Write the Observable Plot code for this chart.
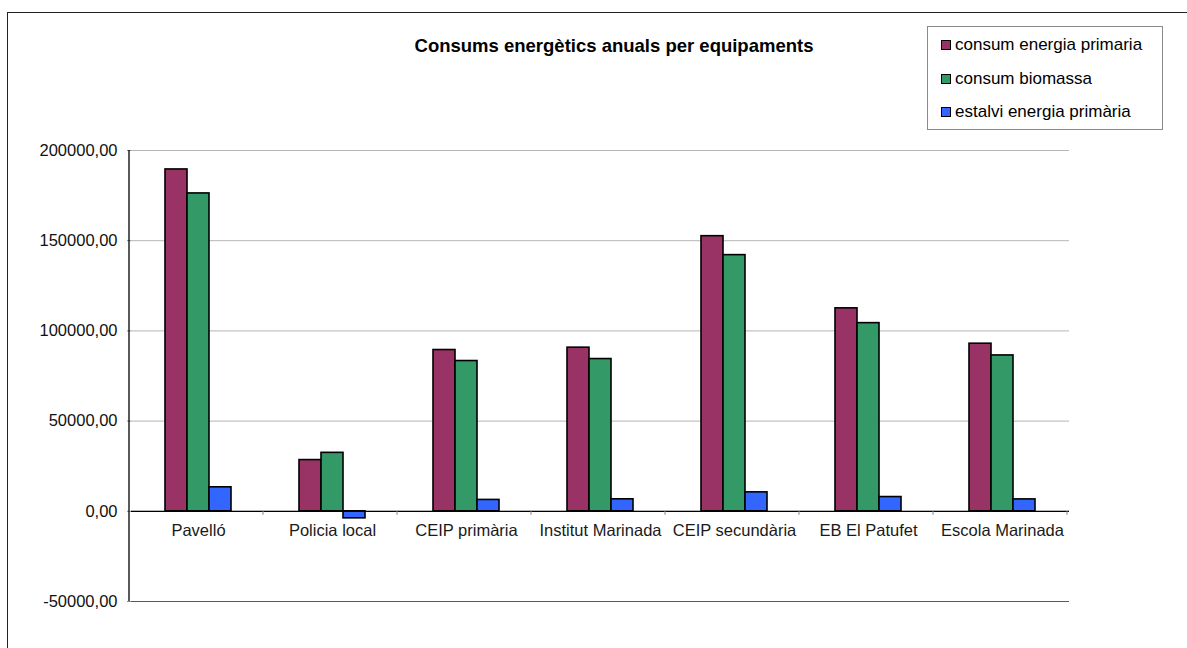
<!DOCTYPE html>
<html lang="ca">
<head>
<meta charset="utf-8">
<script src="https://cdn.jsdelivr.net/npm/d3@7"></script>
<script src="https://cdn.jsdelivr.net/npm/@observablehq/plot@0.6"></script>
<style>
  html, body { margin: 0; padding: 0; background: #fff; }
  #chart { position: relative; width: 1187px; height: 648px; overflow: hidden; font-family: "Liberation Sans", Arial, sans-serif; }
  #chart svg { position: absolute; left: 0; top: 0; }
  .frame-line { position: absolute; left: 7px; top: 12px; right: -2px; bottom: -2px; border-top: 1.5px solid #222; border-left: 1.5px solid #222; }
  .title { position: absolute; left: 0; width: 1228px; top: 35px; text-align: center; font-weight: bold; font-size: 18.5px; line-height: 22px; color: #000; }
  .legend { position: absolute; left: 927px; top: 26px; width: 236px; height: 104px; border: 1px solid #8a8a8a; background: #fff; box-sizing: border-box; }
  .legend .item { position: absolute; left: 13px; font-size: 17px; line-height: 20px; color: #000; white-space: nowrap; display: flex; align-items: center; }
  .legend .sw { width: 8px; height: 8px; border: 1.5px solid #000; margin-right: 4px; }
  svg [aria-label="y-axis tick"] path { stroke: #888; }
</style>
</head>
<body>
<div id="chart">
  <div class="frame-line"></div>
</div>
<script>
// Equipaments municipals
const categories = ["Pavelló", "Policia local", "CEIP primària", "Institut Marinada", "CEIP secundària", "EB El Patufet", "Escola Marinada"];
// Sèries
const series = ["consum energia primaria", "consum biomassa", "estalvi energia primària"];
const seriesColors = ["#993366", "#339966", "#3366FF"];
// Valors anuals per sèrie
const consumPrimaria = [189500, 28400, 89400, 90700, 152500, 112500, 92900];
const consumBiomassa = [176200, 32400, 83300, 84400, 142000, 104300, 86400];
const estalviPrimaria = [13300, -3900, 6300, 6650, 10500, 7900, 6600];
// Marques de l'eix vertical
const yTicks = [-50000, 0, 50000, 100000, 150000, 200000];
const chartTitle = "Consums energètics anuals per equipaments";

const seriesValues = [consumPrimaria, consumBiomassa, estalviPrimaria];
const rows = [];
categories.forEach((cat, i) => {
  series.forEach((s, j) => rows.push({cat, series: s, value: seriesValues[j][i]}));
});

const fmt = d => d.toFixed(2).replace(".", ",");

const plot = Plot.plot({
  width: 1187,
  height: 648,
  marginLeft: 129,
  marginRight: 117,
  marginTop: 150,
  marginBottom: 47,
  style: {fontFamily: '"Liberation Sans", Arial, sans-serif', fontSize: "16.5px", color: "#111", background: "transparent", overflow: "visible"},
  fx: {domain: categories, padding: 0, axis: null, label: null},
  x: {domain: series, paddingInner: 0, paddingOuter: 1.42, axis: null, label: null},
  y: {domain: [-50000, 200000], ticks: yTicks, tickFormat: fmt, tickSize: 4, tickPadding: 10, label: null},
  color: {domain: series, range: seriesColors},
  marks: [
    Plot.gridY(yTicks.filter(t => t > -50000), {stroke: "#b5b5b5", strokeOpacity: 1, strokeWidth: 1}),
    Plot.ruleY([-50000], {stroke: "#5a5a5a", strokeWidth: 1.2}),
    Plot.barY(rows, {fx: "cat", x: "series", y: "value", fill: "series", stroke: "#000", strokeWidth: 1.6}),
    Plot.ruleY([0], {stroke: "#000", strokeWidth: 1.3}),
    Plot.text(categories, {fx: d => d, y: () => 0, text: d => d, dy: 19, fill: "#1a1a1a", fontSize: 16.5})
  ]
});

// Eix vertical i marques de separació entre categories, a partir de les escales del gràfic
const fxScale = plot.scale("fx");
const yScale = plot.scale("y");
const svg = d3.select(plot.tagName.toLowerCase() === "svg" ? plot : plot.querySelector("svg"));
const x0 = fxScale.range[0];
const step = fxScale.step;
const yTop = yScale.apply(200000);
const yBottom = yScale.apply(-50000);
const yZero = yScale.apply(0);
const g = svg.append("g").attr("aria-label", "category axis");
g.append("line").attr("x1", x0).attr("x2", x0).attr("y1", yTop).attr("y2", yBottom).attr("stroke", "#000").attr("stroke-width", 1.3);
d3.range(1, categories.length + 1).forEach(i => {
  const x = x0 + i * step;
  g.append("line").attr("x1", x).attr("x2", x).attr("y1", yZero).attr("y2", yZero + 4).attr("stroke", "#888").attr("stroke-width", 1);
});

const chart = document.getElementById("chart");
chart.appendChild(plot);

const title = document.createElement("div");
title.className = "title";
title.textContent = chartTitle;
chart.appendChild(title);

const legend = document.createElement("div");
legend.className = "legend";
series.forEach((s, j) => {
  const item = document.createElement("div");
  item.className = "item";
  item.style.top = (8 + j * 33.5) + "px";
  const sw = document.createElement("span");
  sw.className = "sw";
  sw.style.background = seriesColors[j];
  item.appendChild(sw);
  const label = document.createElement("span");
  label.textContent = s;
  item.appendChild(label);
  legend.appendChild(item);
});
chart.appendChild(legend);
</script>
</body>
</html>
